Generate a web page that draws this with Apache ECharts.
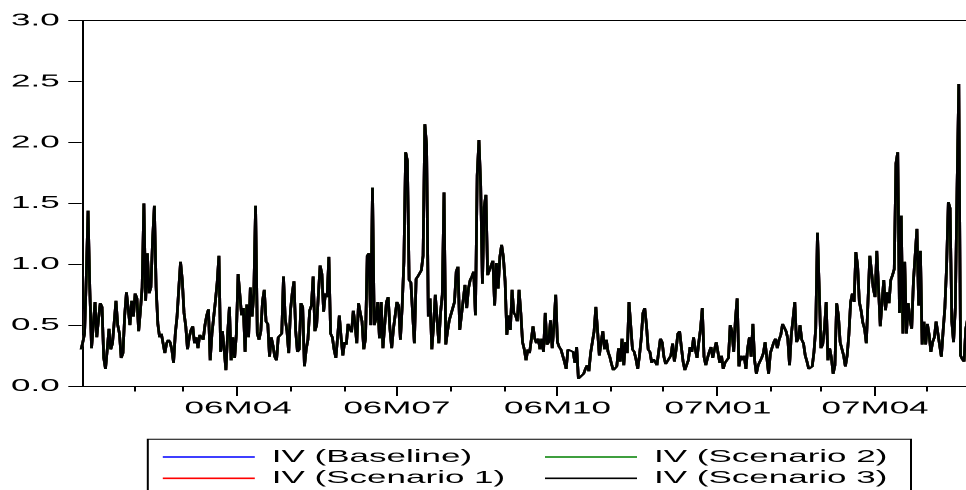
<!DOCTYPE html>
<html><head><meta charset="utf-8">
<script src="https://cdn.jsdelivr.net/npm/echarts@6/dist/echarts.min.js"></script>
<style>
html,body{margin:0;padding:0;background:#fff;overflow:hidden;width:966px;height:490px}
#c{width:483px;height:490px;transform:scaleX(2);transform-origin:0 0;}
</style>
</head><body><div id="c"></div>
<script>
// Daily values (7-day calendar), one array per month
const m2006_01 = [.30,.36,.43,.90,1.44,.80,.31,.50,.69,.40,.55,.68,.65,.23,.14,.30,.47,.30,.35,.35,.70,.50,.43,.23,.27,.58,.77,.76,.50,.70,.57];
const m2006_02 = [.76,.72,.45,.62,.81,1.50,.70,1.09,.76,.81,1.20,1.48,.81,.51,.40,.43,.43,.27,.35,.38,.36,.30,.19,.43,.57,.80,1.02,.87];
const m2006_03 = [.60,.49,.30,.40,.46,.49,.35,.40,.31,.42,.40,.38,.50,.58,.63,.21,.43,.42,.70,.85,1.07,.28,.45,.30,.13,.43,.65,.21,.40,.23,.43];
const m2006_04 = [.92,.92,.58,.64,.28,.67,.40,.81,.57,.76,1.48,.43,.38,.45,.70,.79,.53,.51,.24,.40,.33,.24,.21,.40,.39,.43,.90,.55,.45,.27];
const m2006_05 = [.62,.76,.86,.45,.28,.30,.68,.65,.16,.30,.38,.62,.66,.90,.45,.50,.75,.99,.92,.61,.76,.73,1.06,.43,.40,.30,.23,.40,.58,.40,.25];
const m2006_06 = [.36,.34,.51,.51,.44,.62,.51,.35,.68,.60,.53,.30,.39,1.07,1.09,.50,1.63,.50,.55,.69,.39,.69,.31,.31,.69,.73,.47,.31,.47,.58];
const m2006_07 = [.69,.66,.38,.65,1.02,1.92,1.85,.87,.85,.60,.35,.88,.90,.91,.95,1.07,2.15,1.98,.57,.72,.30,.50,.75,.75,.35,.60,.75,1.59,.34,.45,.54];
const m2006_08 = [.55,.55,.69,.94,.98,.46,.46,.46,.83,.64,.80,.87,.90,.94,.58,1.73,2.02,1.65,.84,1.47,1.57,.91,.90,.90,1.03,.66,1.01,.80,1.06,1.16,1.06];
const m2006_09 = [.86,.42,.58,.46,.79,.60,.58,.53,.79,.60,.36,.30,.21,.30,.27,.28,.49,.39,.35,.39,.30,.39,.28,.60,.34,.36,.54,.31,.50,.75];
const m2006_10 = [.36,.32,.30,.31,.20,.14,.30,.29,.30,.28,.19,.32,.06,.06,.06,.10,.14,.17,.12,.27,.28,.45,.65,.45,.25,.36,.45,.30,.38,.28,.24];
const m2006_11 = [.18,.13,.14,.16,.31,.20,.39,.17,.36,.27,.69,.70,.30,.28,.22,.14,.25,.39,.60,.64,.50,.30,.28,.19,.22,.20,.17,.28,.39,.36];
const m2006_12 = [.24,.18,.19,.17,.25,.35,.20,.30,.43,.45,.32,.20,.13,.17,.21,.32,.28,.40,.30,.23,.36,.47,.64,.24,.17,.23,.28,.32,.23,.30,.36];
const m2007_01 = [.36,.19,.25,.14,.19,.20,.23,.50,.45,.28,.55,.72,.16,.25,.21,.25,.14,.31,.40,.24,.51,.21,.10,.17,.20,.23,.27,.36,.23,.10,.27];
const m2007_02 = [.26,.36,.39,.31,.38,.42,.51,.51,.45,.39,.17,.42,.55,.69,.36,.39,.50,.38,.35,.25,.20,.14,.15,.16,.28,.47,1.26,.80];
const m2007_03 = [.31,.34,.47,.69,.21,.31,.23,.10,.17,.68,.58,.36,.35,.25,.16,.25,.42,.69,.76,.69,1.10,.99,.69,.62,.52,.47,.35,.34,1.07,1.06,.80];
const m2007_04 = [.73,1.11,1.10,.49,.69,.87,.62,.77,.68,.87,.91,.96,1.83,1.92,.60,1.40,.43,1.02,.43,.68,.55,.47,.86,.86,1.29,.66,1.11,.34,.53,.34];
const m2007_05 = [.51,.42,.28,.36,.40,.53,.53,.53,.24,.45,.64,.98,1.51,1.46,.53,.36,.64,1.62,2.48,.25,.22,.20,.47,.55];

const ivBaseline = [].concat(m2006_01,m2006_02,m2006_03,m2006_04,m2006_05,m2006_06,m2006_07,m2006_08,
  m2006_09,m2006_10,m2006_11,m2006_12,m2007_01,m2007_02,m2007_03,m2007_04,m2007_05);
// The four scenarios coincide in the picture
const ivScenario1 = ivBaseline;
const ivScenario2 = ivBaseline;
const ivScenario3 = ivBaseline;

const seriesNames = ['IV (Baseline)','IV (Scenario 1)','IV (Scenario 2)','IV (Scenario 3)'];
const seriesData = [ivBaseline, ivScenario1, ivScenario2, ivScenario3];
const seriesColors = ['#0000ff','#ff0000','#008000','#000000'];

// Calendar categories: every day from 2006-01-01
const startDate = Date.UTC(2006,0,1);
const nDays = 512;
const dates = [];
for (let i = 0; i < nDays; i++) dates.push(new Date(startDate + i*86400000).toISOString().slice(0,10));

const yMin = 0, yMax = 3, yStep = 0.5;
const FONT = 'Liberation Sans';
const DAY_W = 0.8725;

const isMonthStart = (idx, val) => idx > 0 && val.slice(8) === '01';
const isQuarterStart = (idx, val) => isMonthStart(idx, val) && ['01','04','07','10'].includes(val.slice(5,7));
const blk = {color:'#000', width:1};
const legendText = {fontFamily:FONT, fontSize:17.5, color:'#000', lineHeight:20, width:125, padding:[0,0,0,3.5]};

const chart = echarts.init(document.getElementById('c'), null, {renderer:'canvas', devicePixelRatio:2, width:483, height:490});
chart.setOption({
  animation:false,
  backgroundColor:'#fff',
  grid:{left:40.1, top:20.7, width:nDays*DAY_W, height:365.3, containLabel:false, outerBoundsMode:'none'},
  xAxis:[
    {type:'category', data:dates, boundaryGap:true, position:'bottom',
     axisLine:{show:true, lineStyle:blk},
     axisTick:{show:true, interval:isMonthStart, length:5.5, lineStyle:blk},
     axisLabel:{show:false}, splitLine:{show:false}},
    {type:'category', data:dates, boundaryGap:true, position:'bottom',
     axisLine:{show:false},
     axisTick:{show:true, interval:isQuarterStart, length:10, lineStyle:blk},
     axisLabel:{show:true, interval:isQuarterStart, margin:13.5, hideOverlap:false,
       fontFamily:FONT, fontSize:17.5, color:'#000',
       formatter:v => v.slice(2,4)+'M'+v.slice(5,7)},
     splitLine:{show:false}},
    {type:'category', data:dates, boundaryGap:true, position:'top',
     axisLine:{show:true, lineStyle:blk}, axisTick:{show:false}, axisLabel:{show:false}, splitLine:{show:false}}
  ],
  yAxis:{type:'value', min:yMin, max:yMax, interval:yStep, offset:-0.75,
    axisLine:{show:true, lineStyle:blk},
    axisTick:{show:true, length:6.7, lineStyle:blk},
    axisLabel:{margin:11, fontFamily:FONT, fontSize:17.5, color:'#000', formatter:v => v.toFixed(1)},
    splitLine:{show:false}},
  legend:[
    {data:[seriesNames[0], seriesNames[1]], orient:'vertical', left:73.9, top:439.3, height:45,
     padding:[7.7,194.6,12,7.5], icon:'rect', itemWidth:46, itemHeight:1.6, itemGap:1.3,
     borderColor:'#000', borderWidth:1, selectedMode:false, textStyle:legendText},
    {data:[seriesNames[2], seriesNames[3]], orient:'vertical', left:272.5, top:447, height:45,
     padding:0, icon:'rect', itemWidth:46, itemHeight:1.6, itemGap:1.3, selectedMode:false, textStyle:legendText}
  ],
  series: seriesNames.map((n,k) => ({
    name:n, type:'line', data:seriesData[k], xAxisIndex:0, yAxisIndex:0,
    symbol:'none', showSymbol:false, silent:true,
    lineStyle:{color:seriesColors[k], width:1.35}, itemStyle:{color:seriesColors[k]}
  }))
});
</script></body></html>
